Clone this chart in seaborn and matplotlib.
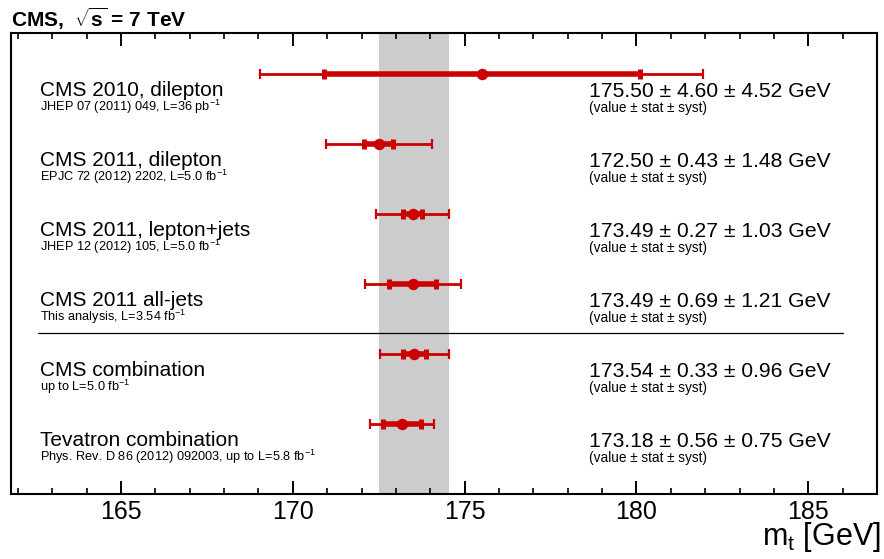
import numpy as np
import pandas as pd
import matplotlib
matplotlib.use('Agg')
import matplotlib.pyplot as plt
from matplotlib.ticker import MultipleLocator
import seaborn as sns

# ========================================
# Data
# ========================================
labels = ['CMS 2010, dilepton', 'CMS 2011, dilepton', 'CMS 2011, lepton+jets',
          'CMS 2011 all-jets', 'CMS combination', 'Tevatron combination']
refs = [r'JHEP 07 (2011) 049, L=36 pb$^{-1}$',
        r'EPJC 72 (2012) 2202, L=5.0 fb$^{-1}$',
        r'JHEP 12 (2012) 105, L=5.0 fb$^{-1}$',
        r'This analysis, L=3.54 fb$^{-1}$',
        r'up to L=5.0 fb$^{-1}$',
        r'Phys. Rev. D 86 (2012) 092003, up to L=5.8 fb$^{-1}$']
mass = [175.50, 172.50, 173.49, 173.49, 173.54, 173.18]
stat = [4.60, 0.43, 0.27, 0.69, 0.33, 0.56]
syst = [4.52, 1.48, 1.03, 1.21, 0.96, 0.75]
band_center = 173.54
band_err = 1.02

RED = '#cc0000'
GRAY = '#cccccc'

sns.set_theme(style='ticks')
plt.rcParams['font.family'] = ['Liberation Sans', 'DejaVu Sans']
plt.rcParams['mathtext.fontset'] = 'custom'
plt.rcParams['mathtext.rm'] = 'Liberation Sans'
plt.rcParams['mathtext.it'] = 'Liberation Sans:italic'
plt.rcParams['mathtext.bf'] = 'Liberation Sans:bold'
plt.rcParams['text.color'] = 'black'
plt.rcParams['xtick.color'] = 'black'
plt.rcParams['axes.labelcolor'] = 'black'

df = pd.DataFrame({'mass': mass, 'stat': stat, 'syst': syst, 'label': labels})
df['row'] = np.arange(len(df))
df['total'] = np.hypot(df['stat'], df['syst'])

fig = plt.figure(figsize=(8.84, 5.59), dpi=100)
ax = fig.add_axes([11 / 884, 1 - 494 / 559, (877 - 11) / 884, (494 - 33.3) / 559])

# band of the CMS combination
ax.axvspan(band_center - band_err, band_center + band_err, color=GRAY, lw=0, zorder=0)

# total uncertainty (thin) and stat (thick)
ax.errorbar(df['mass'], df['row'], xerr=df['total'], fmt='none', ecolor=RED,
            elinewidth=2, capsize=3.4, capthick=1.6, zorder=2)
ax.errorbar(df['mass'], df['row'], xerr=df['stat'], fmt='none', ecolor=RED,
            elinewidth=4, capsize=3.6, capthick=3.6, zorder=3)
sns.scatterplot(data=df, x='mass', y='row', color=RED, s=68, marker='o',
                edgecolor=RED, linewidth=0, ax=ax, zorder=4, legend=False)

# texts
for i, row in df.iterrows():
    y = row['row']
    ax.text(162.65, y + 0.305, row['label'], fontsize=15, va='baseline', ha='left')
    ax.text(162.65, y + 0.52, refs[i], fontsize=9.2, va='baseline', ha='left')
    ax.text(178.63, y + 0.32, f"{row['mass']:.2f} ± {row['stat']:.2f} ± {row['syst']:.2f} GeV",
            fontsize=15.2, va='baseline', ha='left')
    ax.text(178.63, y + 0.545, '(value ± stat ± syst)', fontsize=9.8, va='baseline', ha='left')

ax.plot([162.59, 186.0], [3.696, 3.696], color='black', lw=0.9, zorder=1)

ax.set_xlim(161.8, 187.0)
ax.set_ylim(5.996, -0.586)
ax.set_yticks([])
ax.set_xlabel('')
ax.set_ylabel('')
ax.xaxis.set_major_locator(MultipleLocator(5))
ax.xaxis.set_minor_locator(MultipleLocator(1))
ax.tick_params(axis='x', which='both', direction='in', top=True, bottom=True,
               labelsize=18, pad=4, colors='black')
ax.tick_params(axis='x', which='major', length=9.5, width=1.4)
ax.tick_params(axis='x', which='minor', length=4.5, width=1.2)
for sp in ax.spines.values():
    sp.set_visible(True)
    sp.set_linewidth(1.5)
    sp.set_color('black')

fig.text(881 / 884, 1 - 545 / 559, r'm$_{\mathrm{t}}$ [GeV]', fontsize=22,
         ha='right', va='baseline')
fig.text(11 / 884, 1 - 27 / 559, r'CMS,  $\mathbf{\sqrt{s}}$ = 7 TeV', fontsize=15,
         fontweight='bold', ha='left', va='baseline')

fig.savefig('out.png', dpi=100)
